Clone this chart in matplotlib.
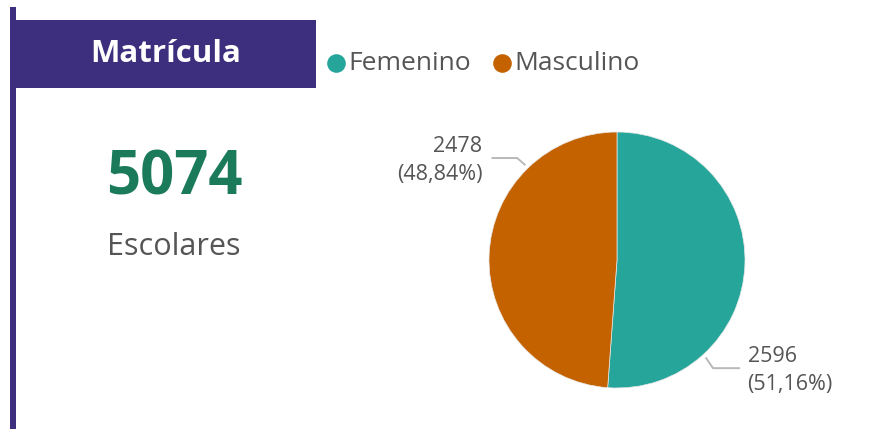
import matplotlib
matplotlib.use("Agg")
import matplotlib.pyplot as plt
import numpy as np

categories = ["Femenino", "Masculino"]
values = [2596, 2478]
percent_labels = ["51,16%", "48,84%"]
total_label = "5074"
subtitle = "Escolares"
title = "Matrícula"
colors = ["#26A69A", "#C46200"]

W, H = 883, 429
fig = plt.figure(figsize=(W / 100, H / 100), dpi=100)
fig.patch.set_facecolor("white")

# background axes in pixel coords
bg = fig.add_axes([0, 0, 1, 1])
bg.set_xlim(0, W)
bg.set_ylim(H, 0)
bg.axis("off")

# left vertical bar
bg.add_patch(plt.Rectangle((10, 7), 6, H - 7, color="#3D2F7E", lw=0))
# title box
bg.add_patch(plt.Rectangle((16, 20), 300, 68, color="#3D2F7E", lw=0))
bg.text(166, 54, title, color="white", fontsize=22.5, fontweight="bold",
        family="Open Sans", ha="center", va="center")

# KPI
bg.text(174, 179, total_label, color="#1A7A5A", fontsize=43, fontweight="bold",
        family="Open Sans", ha="center", va="center")
bg.text(174, 247, subtitle, color="#555555", fontsize=22,
        family="Open Sans", ha="center", va="center")

# pie axes
cx, cy, R = 617, 260, 128
half = 160
ax = fig.add_axes([(cx - half) / W, (H - cy - half) / H, 2 * half / W, 2 * half / H])
ax.axis("off")
wedges, _ = ax.pie(values, colors=colors, startangle=90, counterclock=False,
                   wedgeprops=dict(edgecolor="#E8E8E8", linewidth=0.5))
lim = half / R
ax.set_xlim(-lim, lim)
ax.set_ylim(-lim, lim)
ax.set_aspect("equal")

# labels with leader lines
label_specs = [
    # anchor angle, elbow angle (deg), elbow radius, side
    (-47.7, -48.4, 1.13, "left"),
    (134.0, 134.4, 1.115, "right"),
]
for (ang0, ang1, r_el, side), v, p in zip(label_specs, values, percent_labels):
    a0, a1 = np.deg2rad(ang0), np.deg2rad(ang1)
    x0, y0 = 1.03 * np.cos(a0), 1.03 * np.sin(a0)
    x1, y1 = r_el * np.cos(a1), r_el * np.sin(a1)
    x2 = x1 + (0.21 if side == "left" else -0.20)
    ax.plot([x0, x1, x2], [y0, y1, y1], color="#B8B8B8", lw=1.4, clip_on=False,
            solid_capstyle="butt")
    tx = x2 + (0.06 if side == "left" else -0.07)
    ax.text(tx, y1 - 0.02, f"{v}\n({p})", color="#555555", fontsize=15.5,
            family="Open Sans", ha=side, va="center", linespacing=1.45,
            clip_on=False)

# legend (on top layer)
lx = [336, 502]
for x, c, lab in zip(lx, colors, categories):
    bg.scatter([x], [63], s=180, color=c, lw=0)
    bg.text(x + 12, 63, lab, color="#555555", fontsize=19, family="Open Sans",
            ha="left", va="center")

fig.savefig("out.png", dpi=100, facecolor="white")
